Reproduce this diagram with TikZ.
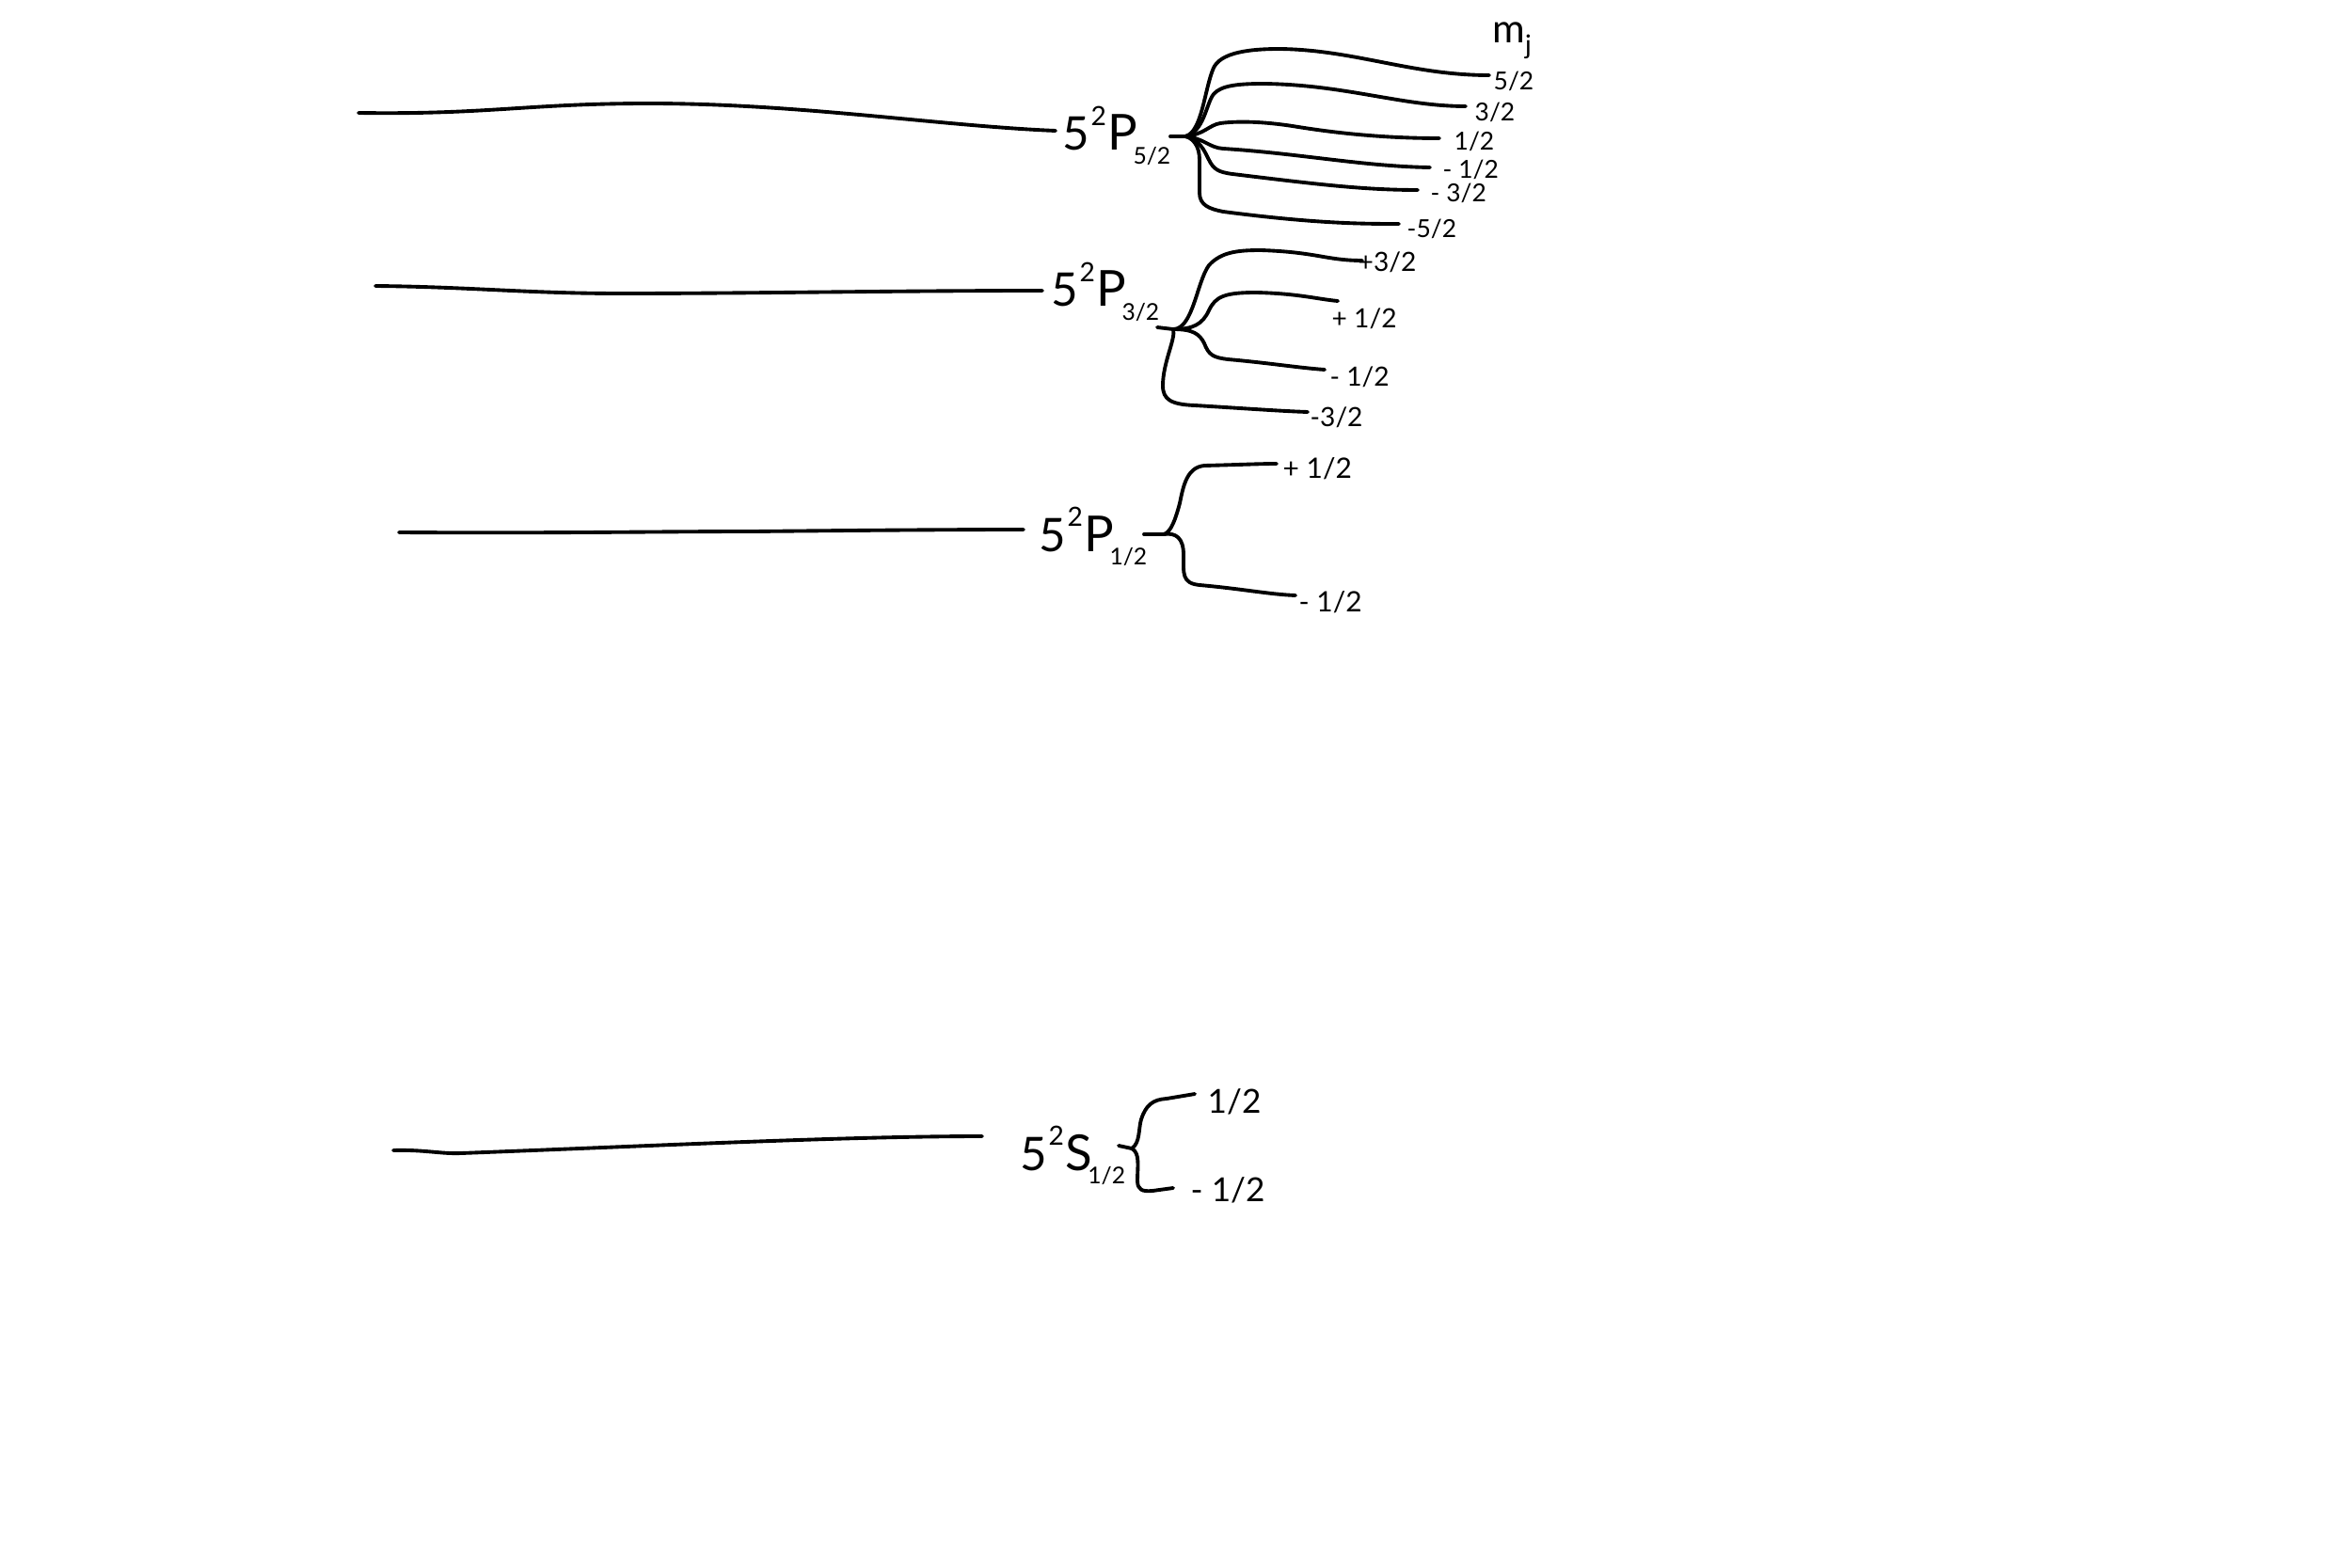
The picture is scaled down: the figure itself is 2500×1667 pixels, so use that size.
\documentclass[tikz,border=0pt]{standalone}
\usepackage{fontspec}
\setmainfont{Lato}
\usetikzlibrary{calc}
\newcommand{\lvlterm}[4]{#1\kern0.4pt\raisebox{1.05ex}{\fontsize{8}{8}\selectfont #2}\kern0.3pt{\fontsize{15}{16}\selectfont #3}\kern-1.2pt\raisebox{-0.6ex}{\fontsize{7}{7}\selectfont #4}}
\begin{document}
\begin{tikzpicture}[x=0.01cm,y=-0.01cm,
  lvl/.style={line width=1.1pt,line cap=round,line join=round},
  term/.style={anchor=base west,inner sep=0pt,font=\fontsize{14}{16}\selectfont},
  mja/.style={anchor=west,inner sep=0pt,font=\fontsize{7.5}{8}\selectfont},
  mjb/.style={anchor=west,inner sep=0pt,font=\fontsize{8}{9}\selectfont},
  mjc/.style={anchor=west,inner sep=0pt,font=\fontsize{8.5}{9}\selectfont},
  mjd/.style={anchor=west,inner sep=0pt,font=\fontsize{10}{11}\selectfont}]
\useasboundingbox (0,0) rectangle (2500,1667);

% ---------------- 5^2P_{5/2} ----------------
\coordinate (s5) at (381,120);
\coordinate (e5) at (1122,139);
\node[term] (L5) at (1129,160) {\lvlterm{5}{2}{P}{5/2}};
\draw[lvl] (s5) .. controls (520,122) and (560,110) .. (690,110) .. controls (850,110) and (1000,134) .. (e5);
\coordinate (t5) at (1244,145);
\coordinate (b5) at (1260,145);
\draw[lvl] (t5) -- (b5);
\node[font=\fontsize{12}{13}\selectfont,inner sep=0pt] (mjt) at (1607,43) {m\raisebox{-0.55ex}{\fontsize{8}{8}\selectfont j}};
\node[mja] (a52)  at (1587,86)  {5/2};
\node[mja] (a32)  at (1567,119) {3/2};
\node[mja] (a12)  at (1545,150) {1/2};
\node[mja] (am12) at (1533,180) {- 1/2};
\node[mja] (am32) at (1520,205) {- 3/2};
\node[mja] (am52) at (1495,243) {-5/2};
\draw[lvl] (b5) .. controls (1278,140) and (1280,95) .. (1290,72) .. controls (1297,58) and (1320,52) .. (1360,52) .. controls (1440,53) and (1500,80) .. ($(a52.west)+(-4,-6)$);
\draw[lvl] (b5) .. controls (1280,140) and (1282,110) .. (1290,100) .. controls (1298,91) and (1315,89) .. (1343,89) .. controls (1430,90) and (1490,113) .. ($(a32.west)+(-9,-6)$);
\draw[lvl] (b5) .. controls (1280,143) and (1285,133) .. (1297,131) .. controls (1320,128) and (1350,130) .. (1380,135) .. controls (1430,143) and (1480,147) .. ($(a12.west)+(-15,-3)$);
\draw[lvl] (b5) .. controls (1280,147) and (1285,157) .. (1300,158) .. controls (1380,163) and (1450,177) .. ($(am12.west)+(-13,-2)$);
\draw[lvl] (b5) .. controls (1275,148) and (1280,160) .. (1285,170) .. controls (1290,180) and (1295,183) .. (1310,185) .. controls (1400,196) and (1450,202) .. ($(am32.west)+(-13,-3)$);
\draw[lvl] (b5) .. controls (1268,147) and (1275,155) .. (1275,170) -- (1275,205) .. controls (1275,218) and (1285,222) .. (1300,225) .. controls (1400,238) and (1450,238) .. ($(am52.west)+(-8,-5)$);

% ---------------- 5^2P_{3/2} ----------------
\coordinate (s3) at (399,304);
\coordinate (e3) at (1108,309);
\node[term] (L3) at (1117,326) {\lvlterm{5}{2}{P}{3/2}};
\draw[lvl] (s3) .. controls (500,305) and (560,312) .. (660,312) .. controls (800,312) and (950,309) .. (e3);
\coordinate (t3) at (1230,348);
\coordinate (b3) at (1247,350);
\draw[lvl] (t3) -- (b3);
\node[mjb] (c32)  at (1443,279) {+3/2};
\node[mjb] (c12)  at (1415,339) {+ 1/2};
\node[mjb] (cm12) at (1413,401) {- 1/2};
\node[mjb] (cm32) at (1392,444) {-3/2};
\draw[lvl] (b3) .. controls (1268,350) and (1272,300) .. (1285,282) .. controls (1298,268) and (1315,266) .. (1340,266) .. controls (1400,268) and (1410,277) .. ($(c32.west)+(5,-2)$);
\draw[lvl] (b3) .. controls (1268,350) and (1278,345) .. (1285,330) .. controls (1292,315) and (1302,311) .. (1335,311) .. controls (1380,312) and (1400,318) .. ($(c12.west)+(7,-19)$);
\draw[lvl] (b3) .. controls (1268,350) and (1275,355) .. (1280,365) .. controls (1285,378) and (1290,380) .. (1305,382) .. controls (1350,386) and (1380,391) .. ($(cm12.west)+(-5,-8)$);
\draw[lvl] (b3) .. controls (1250,360) and (1236,385) .. (1236,410) .. controls (1236,425) and (1245,430) .. (1270,431) .. controls (1320,434) and (1360,437) .. ($(cm32.west)+(-2,-6)$);

% ---------------- 5^2P_{1/2} ----------------
\coordinate (s1) at (424,566);
\coordinate (e1) at (1088,563);
\node[term] (L1) at (1104,586) {\lvlterm{5}{2}{P}{1/2}};
\draw[lvl] (s1) .. controls (600,567) and (700,565) .. (800,565) .. controls (900,564) and (1000,563) .. (e1);
\coordinate (t1) at (1216,568);
\coordinate (b1) at (1237,568);
\draw[lvl] (t1) -- (b1);
\node[mjc] (d12)  at (1363,498) {+ 1/2};
\node[mjc] (dm12) at (1380,640) {- 1/2};
\draw[lvl] (b1) .. controls (1245,566) and (1250,550) .. (1254,535) .. controls (1258,515) and (1262,497) .. (1280,495) .. controls (1320,494) and (1340,493) .. ($(d12.west)+(-6,-5)$);
\draw[lvl] (b1) .. controls (1250,566) and (1258,572) .. (1258,590) .. controls (1258,610) and (1256,620) .. (1275,622) .. controls (1320,626) and (1350,632) .. ($(dm12.west)+(-3,-7)$);

% ---------------- 5^2S_{1/2} ----------------
\coordinate (sS) at (418,1223);
\coordinate (eS) at (1044,1208);
\node[term] (LS) at (1084,1244) {\lvlterm{5}{2}{S}{1/2}};
\draw[lvl] (sS) .. controls (450,1222) and (470,1227) .. (490,1226) .. controls (700,1218) and (900,1208) .. (eS);
\coordinate (tS) at (1189,1218);
\coordinate (bS) at (1203,1221);
\draw[lvl] (tS) -- (bS);
\node[mjd] (e12)  at (1283,1171) {1/2};
\node[mjd] (em12) at (1265,1265) {- 1/2};
\draw[lvl] (bS) .. controls (1212,1215) and (1210,1200) .. (1213,1190) .. controls (1218,1175) and (1225,1169) .. (1240,1168) -- ($(e12.west)+(-13,-8)$);
\draw[lvl] (bS) .. controls (1212,1226) and (1209,1240) .. (1209,1255) .. controls (1209,1265) and (1214,1267) .. (1225,1266) -- ($(em12.west)+(-18,-2)$);
\end{tikzpicture}
\end{document}
